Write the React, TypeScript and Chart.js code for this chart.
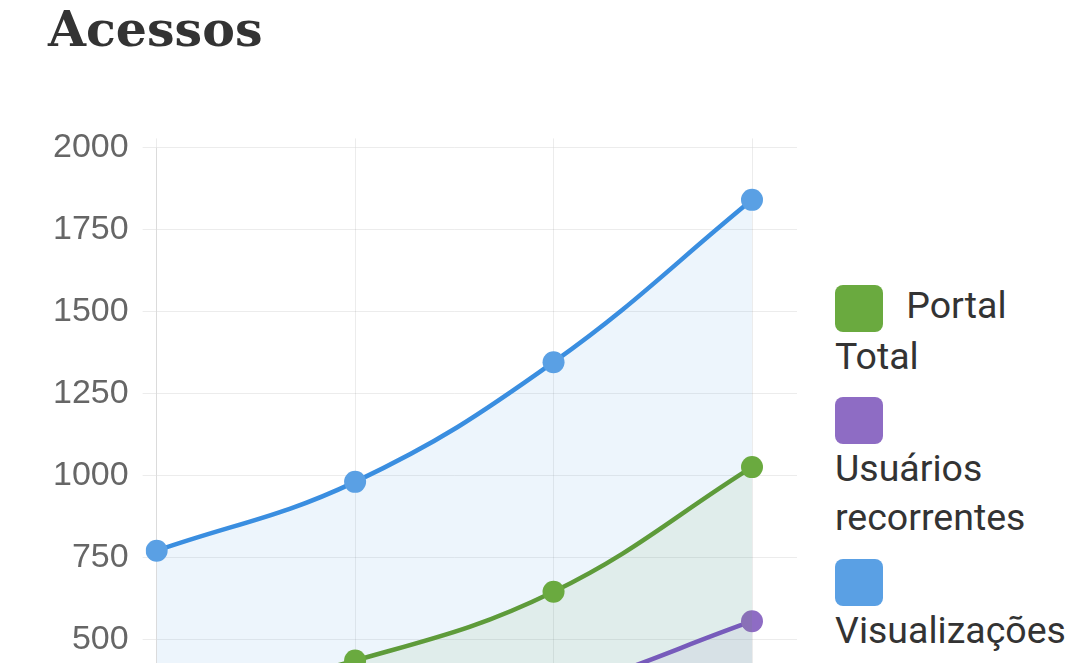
import React, { useEffect, useRef } from "react";
import { Chart, registerables } from "chart.js";

Chart.register(...registerables);

const labels = ["Jan", "Fev", "Mar", "Abr"];
const portalTotal = [300, 435, 645, 1025];
const usuariosRecorrentes = [120, 220, 340, 555];
const visualizacoes = [770, 980, 1345, 1840];
const seriesNames = ["Portal Total", "Usuários recorrentes", "Visualizações"];
const yMin = 0;
const yMax = 2000;
const yStep = 250;

const lineColors = ["#5e9b3a", "#7a55c8", "#3a8ee0"];
const pointColors = ["#6aaa3f", "#8e6cc4", "#5aa0e4"];
const fillColors = ["rgba(94,155,58,0.09)", "rgba(122,85,200,0.08)", "rgba(58,142,224,0.09)"];
const gridColor = "rgba(0,0,0,0.075)";

export default function App() {
  const canvasRef = useRef<HTMLCanvasElement | null>(null);

  useEffect(() => {
    const ctx = canvasRef.current;
    if (!ctx) return;
    const values = [portalTotal, usuariosRecorrentes, visualizacoes];
    const chart = new Chart(ctx, {
      type: "line",
      data: {
        labels,
        datasets: values.map((v, i) => ({
          label: seriesNames[i],
          data: v,
          borderColor: lineColors[i],
          backgroundColor: fillColors[i],
          pointBackgroundColor: pointColors[i],
          pointBorderColor: pointColors[i],
          pointBorderWidth: 0,
          pointRadius: 11,
          borderWidth: 4.5,
          tension: 0.4,
          fill: "origin",
        })),
      },
      options: {
        animation: false,
        responsive: true,
        maintainAspectRatio: false,
        layout: { padding: 0 },
        plugins: { legend: { display: false }, tooltip: { enabled: false } },
        scales: {
          x: {
            type: "category",
            position: "bottom",
            grid: { color: gridColor, tickLength: 9 },
            border: { display: false },
            ticks: { font: { size: 34 }, color: "#666", padding: 10 },
          },
          xTop: {
            type: "category",
            position: "top",
            labels,
            grid: { color: gridColor, tickLength: 9, drawOnChartArea: false },
            border: { display: false },
            ticks: { display: false },
          },
          y: {
            min: yMin,
            max: yMax,
            position: "left",
            grid: { color: gridColor, tickLength: 14 },
            border: { display: true, color: gridColor },
            ticks: {
              stepSize: yStep,
              font: { size: 34 },
              color: "#666",
              padding: 14,
              callback: (v: any) => String(v),
            },
          },
          y2: {
            min: yMin,
            max: yMax,
            position: "right",
            grid: { color: gridColor, tickLength: 45, drawOnChartArea: false },
            border: { display: false },
            ticks: { stepSize: yStep, display: false },
          },
        },
      },
    });
    return () => chart.destroy();
  }, []);

  return (
    <div style={{ paddingLeft: 40 }}>
      <h1
        style={{
          margin: 0,
          fontFamily: '"DejaVu Serif", serif',
          fontWeight: "bold",
          fontSize: 49,
          lineHeight: "42px",
          color: "#333",
        }}
      >
        Acessos
      </h1>
      <div style={{ display: "flex", alignItems: "flex-start", marginTop: 63 }}>
        <div
          style={{
            position: "relative",
            width: 758,
            height: 760,
            marginLeft: -9,
            flex: "0 0 auto",
          }}
        >
          <canvas ref={canvasRef} />
        </div>
        <div
          style={{
            width: 190,
            marginLeft: 38,
            marginTop: 168,
            fontFamily: "Roboto, sans-serif",
            fontSize: 37.5,
            lineHeight: "49px",
            color: "#333",
          }}
        >
          {seriesNames.map((name, i) => (
            <div key={name} style={{ marginBottom: 13 }}>
              <span
                style={{
                  display: "inline-block",
                  width: 48,
                  height: 47,
                  borderRadius: 8,
                  background: pointColors[i],
                  verticalAlign: "middle",
                  marginRight: 14,
                }}
              />{" "}
              {name}
            </div>
          ))}
        </div>
      </div>
    </div>
  );
}
